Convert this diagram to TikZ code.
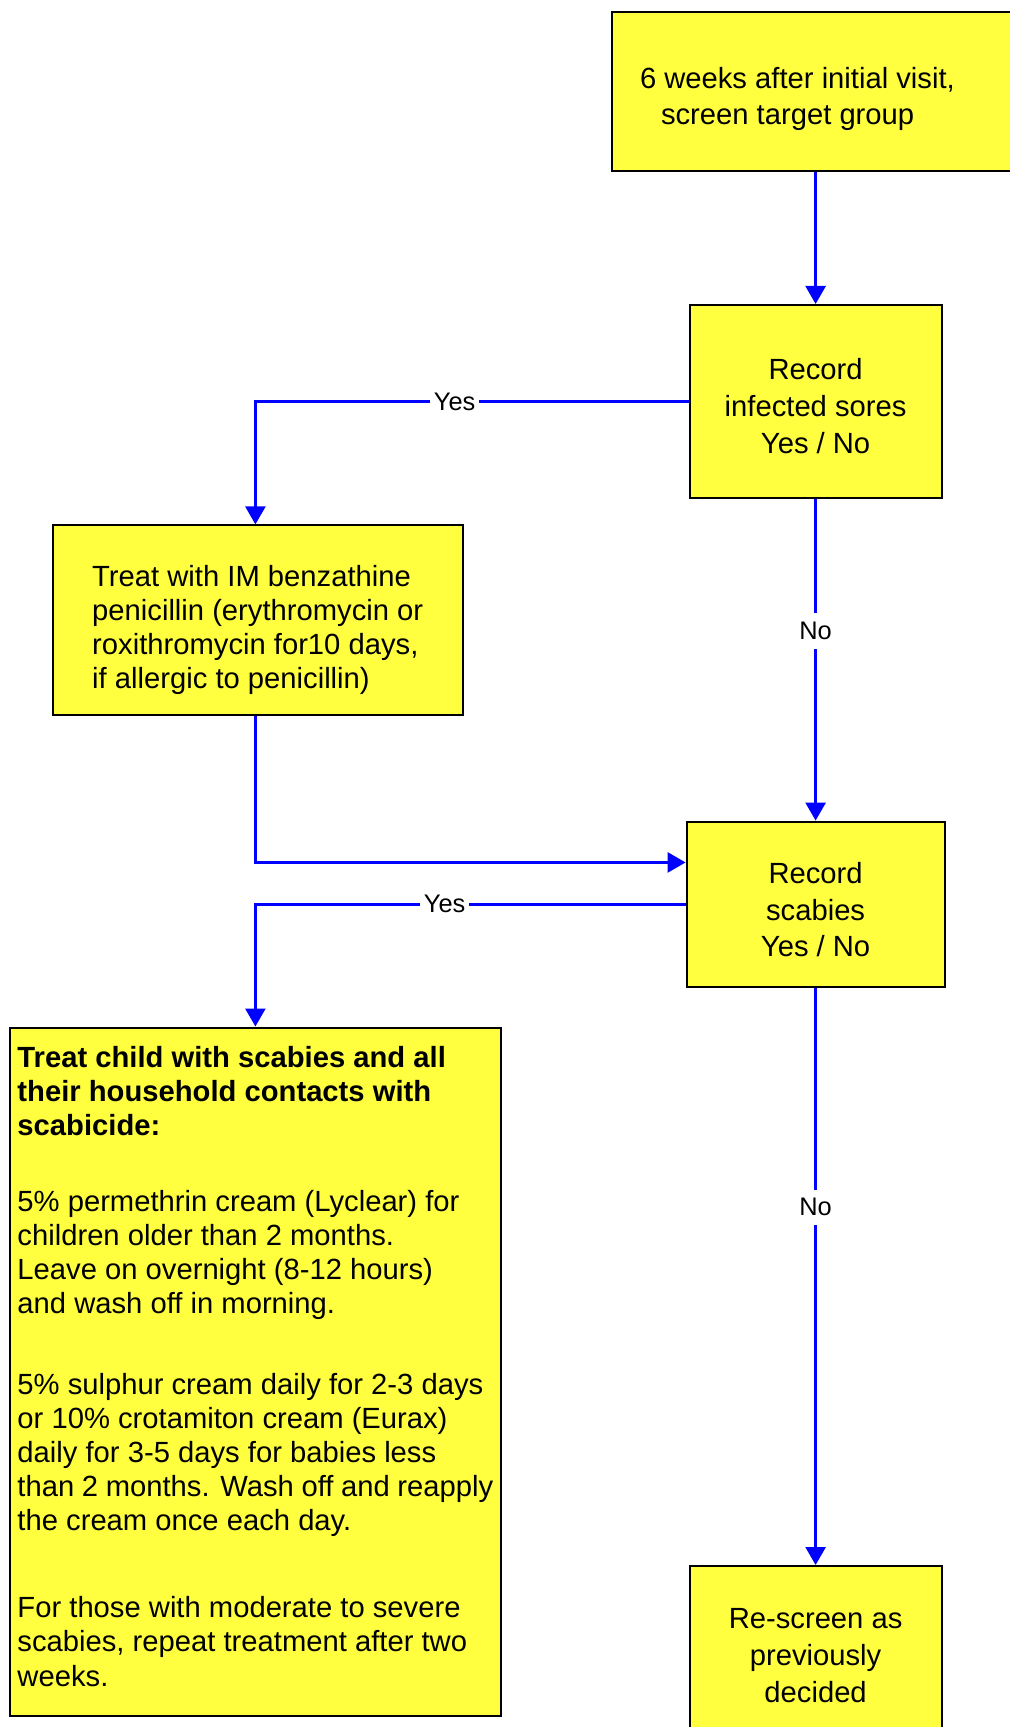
\documentclass[tikz,border=0pt]{standalone}
\usepackage{fontspec}
\setmainfont{Liberation Sans}
\usetikzlibrary{arrows.meta}
\definecolor{boxyellow}{RGB}{255,255,64}
\definecolor{linkblue}{RGB}{0,0,255}
\begin{document}
\begin{tikzpicture}[x=0.5pt,y=-0.5pt,
  flowbox/.style={draw=black, line width=1pt, fill=boxyellow, rectangle},
  link/.style={draw=linkblue, line width=1.3pt, -{Triangle[width=10pt,length=9pt]}},
  lbl/.style={fill=white, font=\fontsize{12.7}{14}\selectfont, inner xsep=2pt, inner ysep=4.4pt, text=black}]
\useasboundingbox (0,0) rectangle (1010,1727);

% box 1 (runs off the right edge)
\node[flowbox, anchor=north west, inner xsep=14pt, inner ysep=0pt] (b1) at (611,11)
  {\parbox[c][79.5pt][t]{200pt}{\raggedright\fontsize{14.6}{18}\selectfont
   \rule{0pt}{38.1pt}6 weeks after initial visit,\\\hspace*{10.5pt}screen target group}};

% box 2
\node[flowbox, minimum width=126pt, minimum height=96.5pt, align=center,
      font=\fontsize{14.6}{18.5}\selectfont] (b2) at (815.6,401.5)
  {\rule{0pt}{15pt}Record\\infected sores\\Yes / No};

% box 3
\node[flowbox, minimum width=204.85pt, minimum height=94.7pt, align=left,
      font=\fontsize{14.6}{17}\selectfont] (b3) at (257.75,620.1)
  {\rule{0pt}{20.3pt}Treat with IM benzathine\\penicillin (erythromycin or\\roxithromycin for10 days,\\if allergic to penicillin)};

% box 4
\node[flowbox, minimum width=129pt, minimum height=82.65pt, align=center,
      font=\fontsize{14.6}{18.3}\selectfont] (b4) at (815.6,904.25)
  {\rule{0pt}{16.1pt}Record\\scabies\\Yes / No};

% box 5
\node[flowbox, anchor=north west, inner xsep=3.85pt, inner ysep=0pt] (b5) at (8.8,1026.5)
  {\parbox[c][344.25pt][t]{237.9pt}{\raggedright\fontsize{14.6}{17.07}\selectfont
   \rule{0pt}{19.9pt}\textbf{Treat child with scabies and all}\\
   \textbf{their household contacts with}\\
   \textbf{scabicide:}\\[20.9pt]
   5\% permethrin cream (Lyclear) for\\
   children older than 2 months.\\
   Leave on overnight (8-12 hours)\\
   and wash off in morning.\\[23.1pt]
   5\% sulphur cream daily for 2-3 days\\
   or 10\% crotamiton cream (Eurax)\\
   daily for 3-5 days for babies less\\
   than 2 months. Wash off and reapply\\
   the cream once each day.\\[26.4pt]
   For those with moderate to severe\\
   scabies, repeat treatment after two\\
   weeks.}};

% box 6 (runs off the bottom edge)
\node[flowbox, anchor=north, inner xsep=0pt, inner ysep=0pt] (b6) at (815.6,1565)
  {\parbox[c][130pt][t]{126pt}{\centering\fontsize{14.6}{18.5}\selectfont
   \rule{0pt}{31.1pt}Re-screen as\\previously\\decided}};

% connectors
\draw[link] (b1.south -| b2.north) -- (b2.north);
\draw[link] (b2.west) -| node[lbl, pos=0.27] {Yes} (b3.north -| b5.north);
\draw[link] (b2.south) -- node[lbl, pos=0.41] {No} (b4.north);
\draw[link] (b3.south -| b5.north) |- ([yshift=20.9pt]b4.west);
\draw[link] (b4.west) -| node[lbl, pos=0.28] {Yes} (b5.north);
\draw[link] (b4.south) -- node[lbl, pos=0.38] {No} (b6.north);
\end{tikzpicture}
\end{document}
